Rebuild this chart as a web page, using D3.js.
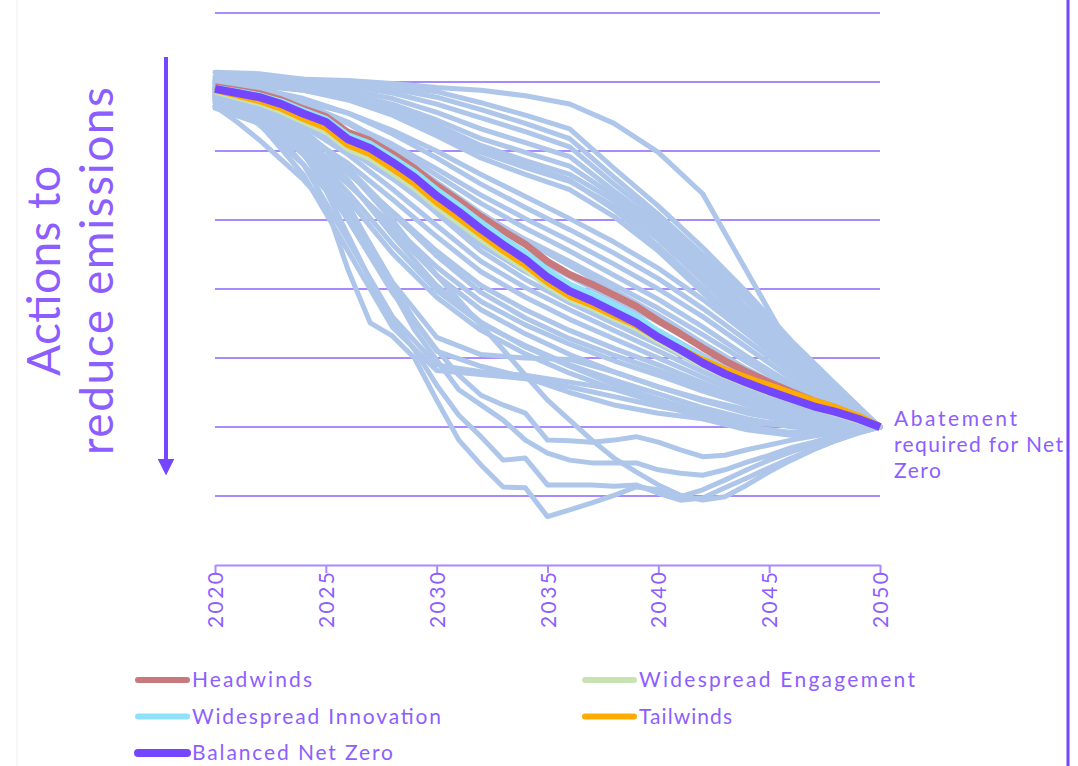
<!DOCTYPE html>
<html>
<head>
<meta charset="utf-8">
<script src="https://cdn.jsdelivr.net/npm/d3@7"></script>
<style>
	body{margin:0;background:#fff;}
	#app text{font-family:Lato, "Open Sans", sans-serif;}
</style>
</head>
<body>
<div id="app"></div>
<script>
// annual years for the highlighted scenarios and the low outliers
const years = [2020,2021,2022,2023,2024,2025,2026,2027,2028,2029,2030,2031,2032,2033,2034,2035,
	2036,2037,2038,2039,2040,2041,2042,2043,2044,2045,2046,2047,2048,2049,2050];
const bundleYears = [2020,2022,2024,2026,2028,2030,2032,2034,2036,2038,2040,2042,2044,2046,2048,2050];

const bundleLines = [
	[703,706,704,702,698,692,688,680,668,640,598,538,425,312,240,200],
	[714,712,704,699,694,686,670,652,632,575,520,460,395,325,262,200],
	[708,707,702,697,690,678,660,640,618,562,508,450,390,320,258,200],
	[703,704,700,694,684,668,648,628,606,552,502,442,382,316,255,200],
	[700,700,696,688,676,656,632,612,592,542,495,435,372,310,251,200],
	[698,698,693,683,668,645,618,598,578,535,488,428,364,304,248,200],
	[702,701,695,684,665,638,608,586,566,528,480,420,356,298,245,200],
	[695,694,688,676,656,628,598,576,556,520,472,412,350,293,242,200],
	[706,703,694,680,660,632,602,580,558,515,462,402,342,288,240,200],
	[699,696,688,674,652,622,590,566,544,505,455,395,336,284,238,200],
	[690,684,672,655,630,600,566,534,502,468,430,385,335,285,240,200],
	[697,690,676,655,625,590,552,518,486,452,415,372,325,278,236,200],
	[686,678,662,640,610,574,536,502,470,436,400,360,315,270,232,200],
	[693,686,668,642,606,565,524,488,455,420,385,345,302,262,228,200],
	[684,674,655,628,592,550,508,472,440,406,372,334,294,256,225,200],
	[700,690,670,640,600,555,510,470,434,398,362,322,284,250,222,200],
	[680,668,646,616,578,535,490,452,418,385,352,315,278,245,219,200],
	[688,676,652,618,575,528,480,440,404,372,340,304,270,240,216,200],
	[676,662,636,602,560,512,464,425,392,362,332,298,265,236,214,200],
	[692,680,654,615,565,510,455,414,380,350,320,288,258,232,212,200],
	[682,666,636,595,545,492,440,402,370,340,310,280,252,228,210,200],
	[672,655,624,582,530,476,425,388,356,328,300,272,246,224,208,200],
	[670,650,615,568,512,455,405,370,340,314,290,264,240,220,206,200],
	[688,670,630,575,510,448,395,358,328,304,282,258,236,218,205,200],
	[665,645,605,552,492,432,382,348,320,296,275,252,232,216,204,200],
	[680,660,615,555,485,420,370,335,305,280,258,238,220,208,202,200],
	[675,652,606,540,465,398,350,318,290,268,248,228,212,200,196,200],
	[690,668,622,558,478,405,352,316,288,262,240,218,200,192,192,200],
	[662,640,596,530,452,388,340,306,278,255,235,212,196,188,190,200],
	[685,650,580,470,360,290,280,275,265,255,240,222,210,203,200,200],
	[678,640,565,455,345,282,276,270,258,244,230,218,208,202,200,200],
	[692,660,595,500,395,310,288,272,250,232,220,212,206,202,200,200],
	[690,665,610,520,410,330,305,300,298,280,258,240,225,212,204,200]
];

// pathways that overshoot below the 2050 level in the 2030s and 2040s
const lowLines = [
	[665,642,616,587,558,522,428,351,332,300,239,181,145,113,112,70,80,90,101,113,109,99,109,123,138,152,164,174,184,193,200],
	[674,659,638,609,580,543,478,413,355,312,261,217,186,152,155,116,116,116,114,116,104,94,97,112,126,141,155,168,181,191,200],
	[681,674,659,638,609,572,522,464,406,355,312,275,246,232,220,181,180,178,181,186,178,167,157,159,167,174,181,187,191,196,200],
	[677,667,648,623,594,558,512,457,399,341,297,254,232,210,181,162,152,148,148,148,138,133,130,138,149,159,170,178,187,194,200],
	[686,677,662,645,623,601,572,536,500,459,420,384,348,312,275,239,210,181,155,135,116,101,94,99,116,135,152,167,180,191,200]
];

const headwinds = [693,688,683,674,661,650,627,615,596,575,550,528,505,484,465,440,421,407,391,375,354,335,315,296,280,265,251,238,228,215,200];
const engagement = [687,678,670,658,643,629,604,590,569,547,520,497,473,451,430,405,386,373,358,344,325,308,290,275,262,250,240,229,220,210,200];
const innovation = [691,686,680,671,658,646,622,610,590,569,543,520,496,473,452,426,406,392,376,360,338,319,299,282,268,256,245,234,225,214,200];
const tailwinds = [689,681,673,662,647,634,609,596,575,553,526,503,479,456,435,410,390,377,362,348,329,313,297,283,271,260,249,238,228,216,200];
const balanced = [690,684,678,668,654,642,617,604,584,562,535,512,487,464,443,417,397,383,367,351,330,312,293,277,264,252,241,230,222,212,200];

const scenarioNames = ["Headwinds","Widespread Engagement","Widespread Innovation","Tailwinds","Balanced Net Zero"];
const scenarioValues = [headwinds, engagement, innovation, tailwinds, balanced];
const scenarioColors = ["#c8797c","#c9e2b3","#8fe2fa","#ffab00","#7446ff"];

const gridValues = [100,200,300,400,500,600,700,800];
const tickYears = [2020,2025,2030,2035,2040,2045,2050];
const axisTitle = ["Actions to","reduce emissions"];
const endNote = ["Abatement","required for Net","Zero"];

const purple = "#7446ff",
	lavender = "#a88aff",
	textCol = "#8d5eff",
	pathCol = "#aec6e9";

const svg = d3.select("#app").append("svg")
	.attr("width", 1078)
	.attr("height", 766);

const x = d3.scaleLinear().domain([2020, 2050]).range([215, 880]);
const y = d3.scaleLinear().domain([0, 800]).range([565, 13]);

function lineFor(yrs){
	return d3.line()
		.x(function(d, i){ return x(yrs[i]); })
		.y(function(d){ return y(d); });
}

// faint page frame + right rule
svg.append("line").attr("x1",17).attr("x2",17).attr("y1",0).attr("y2",766)
	.attr("stroke","#eeeeee").attr("stroke-width",1);
svg.append("line").attr("x1",1068).attr("x2",1068).attr("y1",0).attr("y2",766)
	.attr("stroke",purple).attr("stroke-width",3);

// gridlines
svg.append("g").selectAll("line").data(gridValues).enter().append("line")
	.attr("x1", x(2020)).attr("x2", x(2050))
	.attr("y1", function(d){ return y(d); })
	.attr("y2", function(d){ return y(d); })
	.attr("stroke", lavender).attr("stroke-width", 2);

// x axis
const ax = svg.append("g")
	.attr("transform", "translate(0," + y(0) + ")")
	.call(d3.axisBottom(x).tickValues(tickYears).tickSize(8).tickSizeOuter(0).tickFormat(d3.format("d")));
ax.select(".domain").attr("stroke", lavender).attr("stroke-width", 2);
ax.selectAll(".tick line").attr("stroke", lavender).attr("stroke-width", 2);
ax.selectAll(".tick text")
	.attr("transform", "rotate(-90)")
	.attr("x", -7).attr("y", 0).attr("dy", "0.36em")
	.attr("text-anchor", "end")
	.attr("fill", textCol)
	.attr("font-size", 21)
	.attr("textLength", 56)
	.attr("lengthAdjust", "spacing");

// explored pathways
const bg = svg.append("g").attr("fill", "none").attr("stroke", pathCol)
	.attr("stroke-width", 5).attr("stroke-linejoin", "round").attr("stroke-linecap", "round");
bg.selectAll("path.bundle").data(bundleLines).enter().append("path")
	.attr("class", "bundle")
	.attr("d", lineFor(bundleYears));
bg.selectAll("path.low").data(lowLines).enter().append("path")
	.attr("class", "low")
	.attr("d", lineFor(years));

// highlighted scenarios, Balanced Net Zero on top
svg.append("g").selectAll("path").data(scenarioValues).enter().append("path")
	.attr("fill", "none")
	.attr("stroke", function(d, i){ return scenarioColors[i]; })
	.attr("stroke-width", function(d, i){ return i == 4 ? 8 : 7; })
	.attr("stroke-linejoin", "round")
	.attr("d", lineFor(years));

// arrow + rotated title
svg.append("defs").append("marker")
	.attr("id", "head").attr("viewBox", "0 0 10 10")
	.attr("refX", 2).attr("refY", 5)
	.attr("markerWidth", 4.2).attr("markerHeight", 4.2)
	.attr("orient", "auto")
	.append("path").attr("d", "M0,0L10,5L0,10Z").attr("fill", purple);
svg.append("line").attr("x1", 166).attr("x2", 166).attr("y1", 57).attr("y2", 462)
	.attr("stroke", purple).attr("stroke-width", 4)
	.attr("marker-end", "url(#head)");

const titleX = [60, 113],
	titleLen = [210, 368];
svg.selectAll("text.ttl").data(axisTitle).enter().append("text")
	.attr("class", "ttl")
	.attr("transform", function(d, i){ return "translate(" + titleX[i] + ",271) rotate(-90)"; })
	.attr("text-anchor", "middle")
	.attr("fill", textCol)
	.attr("font-size", 46)
	.attr("textLength", function(d, i){ return titleLen[i]; })
	.attr("lengthAdjust", "spacing")
	.text(function(d){ return d; });

// end annotation
const noteLen = [123, 169, 47];
svg.selectAll("text.note").data(endNote).enter().append("text")
	.attr("class", "note")
	.attr("x", 894)
	.attr("y", function(d, i){ return 426 + i * 26; })
	.attr("fill", textCol)
	.attr("font-size", 21)
	.attr("textLength", function(d, i){ return noteLen[i]; })
	.attr("lengthAdjust", "spacing")
	.text(function(d){ return d; });

// legend
const legLen = [120, 276, 249, 93, 201];
const leg = svg.append("g").selectAll("g").data(scenarioNames).enter().append("g")
	.attr("transform", function(d, i){
		return "translate(" + (i % 2 ? 585 : 138) + "," + (680 + Math.floor(i / 2) * 36.5) + ")";
	});
leg.append("line").attr("x1", 0).attr("x2", 49).attr("y1", 0).attr("y2", 0)
	.attr("stroke", function(d, i){ return scenarioColors[i]; })
	.attr("stroke-width", function(d, i){ return i == 4 ? 8 : 6; })
	.attr("stroke-linecap", "round");
leg.append("text")
	.attr("x", 54).attr("y", 7)
	.attr("fill", textCol)
	.attr("font-size", 21)
	.attr("textLength", function(d, i){ return legLen[i]; })
	.attr("lengthAdjust", "spacing")
	.text(function(d){ return d; });
</script>
</body>
</html>
